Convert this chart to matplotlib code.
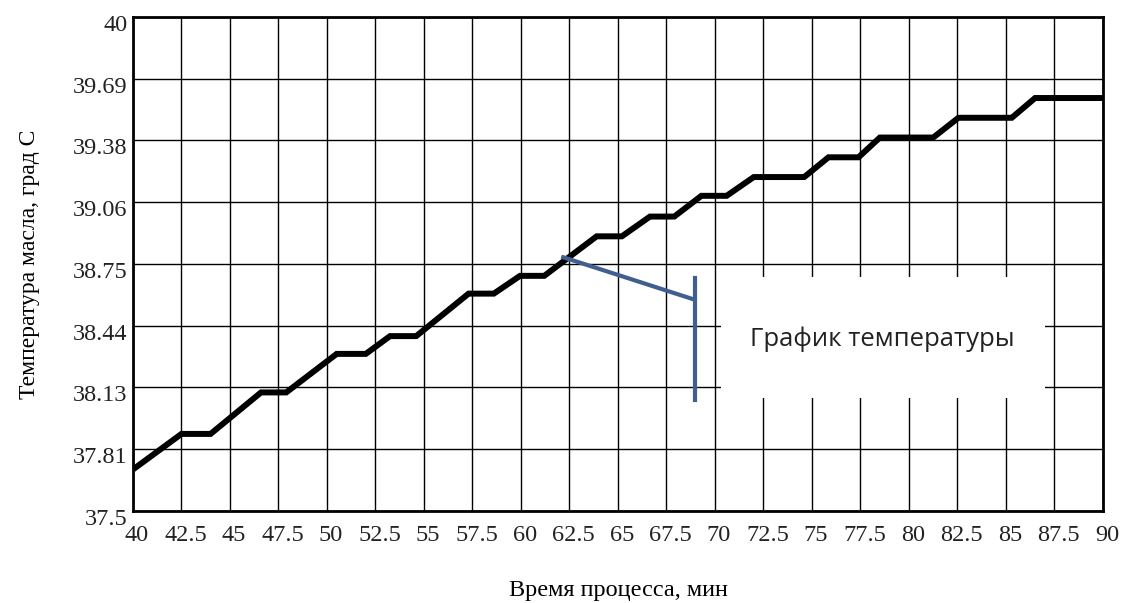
"""График температуры масла во времени (ступенчатый рост)."""

import matplotlib

matplotlib.use("Agg")
import matplotlib.pyplot as plt  # noqa: E402
import matplotlib.transforms as mtransforms  # noqa: E402
from matplotlib.patches import Rectangle  # noqa: E402

# --- данные ---
time_min = [40, 42.5, 44.0, 46.6, 47.9, 50.5, 52.0, 53.25, 54.6, 57.3,
            58.6, 59.95, 61.2, 63.9, 65.2, 66.65, 67.9, 69.3, 70.6, 72.0,
            74.6, 75.85, 77.4, 78.5, 81.25, 82.55, 85.3, 86.5, 90]
temp_c = [37.71, 37.89, 37.89, 38.10, 38.10, 38.295, 38.295, 38.385, 38.385, 38.60,
          38.60, 38.69, 38.69, 38.89, 38.89, 38.99, 38.99, 39.095, 39.095, 39.19,
          39.19, 39.29, 39.29, 39.39, 39.39, 39.49, 39.49, 39.59, 39.59]

x_ticks = [40, 42.5, 45, 47.5, 50, 52.5, 55, 57.5, 60, 62.5, 65, 67.5,
           70, 72.5, 75, 77.5, 80, 82.5, 85, 87.5, 90]
x_tick_labels = ["40", "42.5", "45", "47.5", "50", "52.5", "55", "57.5", "60",
                 "62.5", "65", "67.5", "70", "72.5", "75", "77.5", "80", "82.5",
                 "85", "87.5", "90"]
y_ticks = [37.5, 37.8125, 38.125, 38.4375, 38.75, 39.0625, 39.375, 39.6875, 40]
y_tick_labels = ["37.5", "37.81", "38.13", "38.44", "38.75", "39.06",
                 "39.38", "39.69", "40"]

# выноска «График температуры»
callout_x = [62.18, 68.9]
callout_y = [38.784, 38.571]
bracket_x = 68.97
bracket_y = (38.062, 38.679)
label_box = (70.29, 38.072, 16.72, 0.614)  # x, y, ширина, высота
label_xy = (78.65, 38.37)
label_text = "График температуры"

SERIF = ["Liberation Serif", "DejaVu Serif"]
BLUE = "#3f5f91"

fig = plt.figure(figsize=(11.24, 6.03), dpi=100)
ax = fig.add_axes([0.1183, 0.1526, 0.863, 0.8192])

ax.plot(time_min, temp_c, color="black", lw=4.3, solid_joinstyle="miter",
        solid_capstyle="butt", zorder=3)

ax.set_xlim(40, 90)
ax.set_ylim(37.5, 40)
ax.set_xticks(x_ticks)
ax.set_xticklabels(x_tick_labels, family=SERIF, fontsize=17.5)
ax.set_yticks(y_ticks)
ax.set_yticklabels(y_tick_labels, family=SERIF, fontsize=17.5)
ax.tick_params(axis="both", length=0, colors="#222222")
ax.tick_params(axis="x", pad=10)
ax.tick_params(axis="y", pad=4)

# подписи делений немного смещены относительно линий сетки
dx = mtransforms.ScaledTranslation(4 / 100, 0, fig.dpi_scale_trans)
for lab in ax.get_xticklabels():
    lab.set_transform(lab.get_transform() + dx)
dy = mtransforms.ScaledTranslation(0, -6 / 100, fig.dpi_scale_trans)
for lab in ax.get_yticklabels():
    lab.set_transform(lab.get_transform() + dy)

ax.set_axisbelow(True)
ax.grid(True, color="black", lw=1.0)
for sp in ax.spines.values():
    sp.set_linewidth(2.0)
    sp.set_color("black")

# выноска
ax.add_patch(Rectangle(label_box[:2], label_box[2], label_box[3],
                       facecolor="white", edgecolor="none", zorder=1))
ax.plot(callout_x, callout_y, color=BLUE, lw=3.0, zorder=4)
ax.plot([bracket_x, bracket_x], bracket_y, color=BLUE, lw=3.0, zorder=4)
ax.text(*label_xy, label_text, family=["Open Sans", "DejaVu Sans"],
        fontsize=18.5, color="#222222", ha="center", va="center", zorder=5)

ax.set_xlabel("Время процесса, мин", family=SERIF, fontsize=17.5)
ax.xaxis.set_label_coords(0.5, -0.14)
ax.set_ylabel("Температура масла, град С", family=SERIF, fontsize=17)
ax.yaxis.set_label_coords(-0.096, 0.5)

fig.savefig("out.png", dpi=100)
plt.close(fig)
